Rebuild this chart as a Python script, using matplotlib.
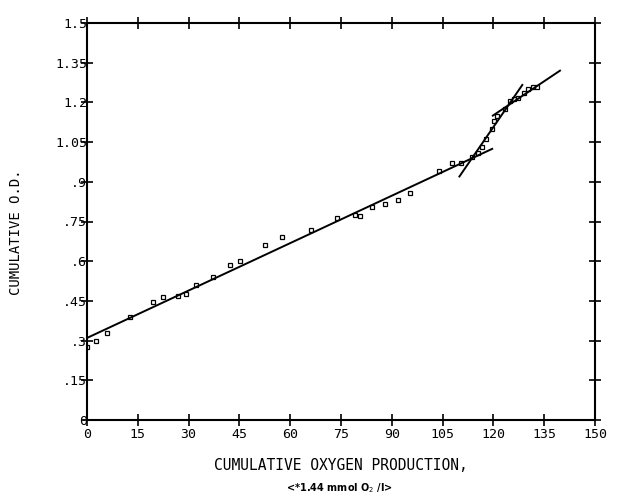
import matplotlib
matplotlib.use("Agg")
import matplotlib.pyplot as plt
import numpy as np

# Data
oxygen = [0.0, 2.7, 5.9, 12.7, 19.5, 22.4, 26.9, 29.2, 32.2, 37.2, 42.2, 45.2,
          52.6, 57.6, 66.1, 73.8, 79.1, 80.6, 84.1, 88.0, 91.8, 95.4, 103.9,
          107.8, 110.4, 113.7, 115.4, 116.6, 117.8, 119.6, 120.2, 121.0, 123.4,
          124.9, 126.1, 127.3, 129.0, 130.2, 131.7, 132.9]
od = [0.277, 0.30, 0.33, 0.39, 0.445, 0.466, 0.47, 0.477, 0.51, 0.54, 0.587, 0.60,
      0.66, 0.69, 0.716, 0.765, 0.773, 0.769, 0.803, 0.818, 0.833, 0.856, 0.94,
      0.97, 0.97, 0.992, 1.01, 1.03, 1.06, 1.10, 1.13, 1.148, 1.174,
      1.205, 1.212, 1.216, 1.235, 1.25, 1.26, 1.26]

# Fitted line segments (endpoints)
fit1_x = [0.0, 119.9]
fit1_y = [0.31, 1.026]
fit2_x = [109.8, 128.7]
fit2_y = [0.917, 1.269]
fit3_x = [119.6, 139.9]
fit3_y = [1.148, 1.322]

xticks = [0, 15, 30, 45, 60, 75, 90, 105, 120, 135, 150]
xticklabels = ["0", "15", "30", "45", "60", "75", "90", "105", "120", "135", "150"]
yticks = [0, 0.15, 0.3, 0.45, 0.6, 0.75, 0.9, 1.05, 1.2, 1.35, 1.5]
yticklabels = ["0", ".15", ".3", ".45", ".6", ".75", ".9", "1.05", "1.2", "1.35", "1.5"]

mono = "DejaVu Sans Mono"

fig = plt.figure(figsize=(6.23, 4.95), dpi=100)
ax = fig.add_axes([87/623, 75/495, (595-87)/623, (420-23)/495])

for fx, fy in [(fit1_x, fit1_y), (fit2_x, fit2_y), (fit3_x, fit3_y)]:
    ax.plot(fx, fy, color="black", lw=1.4, solid_capstyle="butt")

ax.plot(oxygen, od, linestyle="none", marker="s", markersize=3.5,
        markerfacecolor="none", markeredgecolor="black", markeredgewidth=0.9)

ax.set_xlim(0, 150)
ax.set_ylim(0, 1.5)
ax.set_xticks(xticks)
ax.set_xticklabels(xticklabels, fontfamily=mono, fontsize=9.5)
ax.set_yticks(yticks)
ax.set_yticklabels(yticklabels, fontfamily=mono, fontsize=9.5)

for s in ax.spines.values():
    s.set_linewidth(1.5)
    s.set_color("black")

ax.tick_params(axis="both", which="major", direction="inout", length=8, width=1.2,
               top=True, right=True, colors="black")
ax.tick_params(axis="x", pad=2)
ax.tick_params(axis="y", pad=-4)

ax.set_xlabel("CUMULATIVE OXYGEN PRODUCTION,", fontfamily=mono, fontsize=10.5,
              labelpad=12)

fig.text(16/623, 1 - 232/495, "CUMULATIVE O.D.", rotation=90, ha="center",
         va="center", fontfamily=mono, fontsize=10)

fig.text((283+395)/2/623, 1 - 488/495, r"<*1.44 mmol O$_2$ /l>", ha="center",
         va="center", fontsize=7, fontweight="bold", family="DejaVu Sans")

fig.savefig("out.png", dpi=100, facecolor="white")
